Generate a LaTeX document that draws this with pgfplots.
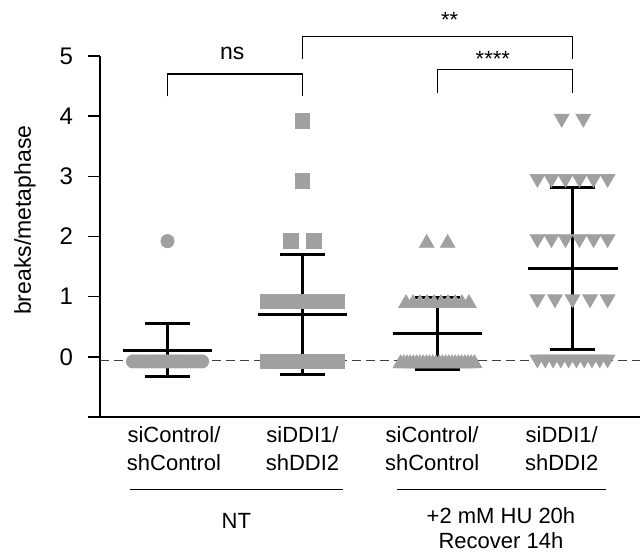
\documentclass[border=0pt]{standalone}
\usepackage{fontspec}
\setmainfont{Liberation Sans}
\usepackage{pgfplots}
\pgfplotsset{compat=1.18}
\usetikzlibrary{calc}
\definecolor{cg}{HTML}{A0A0A0}

\begin{document}
\begin{tikzpicture}[lab/.style={font=\fontsize{11}{14}\selectfont}]
\begin{axis}[
  name=ax,
  scale only axis, width=270pt, height=180.5pt,
  xmin=0.5, xmax=4.5, ymin=-1, ymax=5,
  axis x line*=bottom, axis y line*=left,
  axis line style={-, line width=0.7pt},
  xtick=\empty, ytick={-1,0,...,5}, yticklabels={,0,1,2,3,4,5},
  tick align=outside, major tick length=6pt,
  tick style={black, line width=0.7pt},
  yticklabel style={font=\fontsize{12}{14}\selectfont, xshift=-4pt},
  /pgf/number format/assume math mode=true,
  clip=false,
  dots/.style={only marks, color=cg, mark options={solid, fill=cg, draw=cg, line width=0.2pt}},
  sd/.style={black, line width=1.6pt, forget plot},
]
% siControl/shControl, NT
\addplot[dots, mark=*, mark size=3.3pt, mark options={yshift=-2.3pt}] coordinates {
(0.744,0) (0.772,0) (0.801,0) (0.829,0) (0.858,0) (0.886,0) (0.915,0) (0.943,0) (0.972,0) (1,0)
(1.028,0) (1.057,0) (1.085,0) (1.114,0) (1.142,0) (1.171,0) (1.199,0) (1.228,0) (1.256,0) (1,2)};
% siDDI1/shDDI2, NT
\addplot[dots, mark=square*, mark size=3.65pt, mark options={yshift=-2.3pt}] coordinates {
(1.744,0) (1.778,0) (1.812,0) (1.846,0) (1.881,0) (1.915,0) (1.949,0) (1.983,0)
(2.017,0) (2.051,0) (2.085,0) (2.119,0) (2.154,0) (2.188,0) (2.222,0) (2.256,0)
(1.744,1) (1.801,1) (1.858,1) (1.915,1) (1.972,1) (2.028,1) (2.085,1) (2.142,1) (2.199,1) (2.256,1)
(1.915,2) (2.085,2) (2,3) (2,4)};
% siControl/shControl, HU
\addplot[dots, mark=triangle*, mark size=4.2pt, mark options={yshift=-3.3pt}] coordinates {
(2.726,0) (2.750,0) (2.774,0) (2.797,0) (2.821,0) (2.845,0) (2.869,0) (2.893,0) (2.917,0) (2.940,0) (2.964,0) (2.988,0)
(3.012,0) (3.036,0) (3.060,0) (3.083,0) (3.107,0) (3.131,0) (3.155,0) (3.179,0) (3.203,0) (3.226,0) (3.250,0) (3.274,0)
(2.767,1) (2.819,1) (2.870,1) (2.922,1) (2.974,1) (3.026,1) (3.078,1) (3.130,1) (3.181,1) (3.233,1)
(2.920,2) (3.075,2)};
% siDDI1/shDDI2, HU
\addplot[dots, mark=triangle*, mark size=4.2pt, mark options={rotate=180, yshift=1.2pt}] coordinates {
(3.740,0) (3.798,0) (3.856,0) (3.913,0) (3.971,0) (4.029,0) (4.087,0) (4.144,0) (4.202,0) (4.260,0)
(3.740,1) (3.870,1) (4.000,1) (4.130,1) (4.260,1)
(3.740,2) (3.844,2) (3.948,2) (4.052,2) (4.156,2) (4.260,2)
(3.740,3) (3.844,3) (3.948,3) (4.052,3) (4.156,3) (4.260,3)
(3.920,4) (4.080,4)};
% zero line
\addplot[black!75, line width=0.6pt, dash pattern=on 4.5pt off 2.5pt] coordinates {(0.5,-0.06) (4.5,-0.06)};
% mean lines
\addplot[sd] coordinates {(0.667,0.105) (1.333,0.105)};
\addplot[sd] coordinates {(1.667,0.7) (2.333,0.7)};
\addplot[sd] coordinates {(2.667,0.385) (3.333,0.385)};
\addplot[sd] coordinates {(3.67,1.47) (4.34,1.47)};
% SD bars with caps
\addplot[sd] coordinates {(1,-0.33) (1,0.55)};
\addplot[sd] coordinates {(0.83,-0.33) (1.17,-0.33)};
\addplot[sd] coordinates {(0.83,0.55) (1.17,0.55)};
\addplot[sd] coordinates {(2,-0.3) (2,1.7)};
\addplot[sd] coordinates {(1.83,-0.3) (2.17,-0.3)};
\addplot[sd] coordinates {(1.83,1.7) (2.17,1.7)};
\addplot[sd] coordinates {(3,-0.21) (3,0.98)};
\addplot[sd] coordinates {(2.83,-0.21) (3.17,-0.21)};
\addplot[sd] coordinates {(2.83,0.98) (3.17,0.98)};
\addplot[sd] coordinates {(4,0.12) (4,2.82)};
\addplot[sd] coordinates {(3.83,0.12) (4.17,0.12)};
\addplot[sd] coordinates {(3.83,2.82) (4.17,2.82)};
% significance brackets
\draw[line width=0.6pt] (axis cs:1,4.33) |- (axis cs:2,4.7) -- (axis cs:2,4.33);
\draw[line width=0.6pt] (axis cs:2,4.95) |- (axis cs:4,5.33) -- (axis cs:4,4.95);
\draw[line width=0.6pt] (axis cs:3,4.38) |- (axis cs:4,4.77) -- (axis cs:4,4.38);
\node[font=\fontsize{11.5}{13}\selectfont] at (axis cs:1.48,5.05) {ns};
\node[lab] at (axis cs:3.09,5.6) {**};
\node[lab] at (axis cs:3.41,4.95) {****};
% y label
\node[rotate=90, font=\fontsize{11.5}{13}\selectfont] at (axis cs:-0.056,2.27) {breaks/metaphase};
% group labels
\node[lab, align=center] at (axis cs:1.048,-1.52) {siControl/\\shControl};
\node[lab, align=center] at (axis cs:2,-1.52) {siDDI1/\\shDDI2};
\node[lab, align=center] at (axis cs:2.96,-1.52) {siControl/\\shControl};
\node[lab, align=center] at (axis cs:3.92,-1.52) {siDDI1/\\shDDI2};
\draw[line width=0.5pt] (axis cs:0.722,-2.2) -- (axis cs:2.3,-2.2);
\draw[line width=0.5pt] (axis cs:2.7,-2.2) -- (axis cs:4.25,-2.2);
\node[lab] at (axis cs:1.51,-2.72) {NT};
\node[font=\fontsize{11}{12.5}\selectfont, align=center] at (axis cs:3.47,-2.84) {+2 mM HU 20h\\Recover 14h};
\coordinate (bl) at (rel axis cs:0,0);
\coordinate (tr) at (rel axis cs:1,1);
\end{axis}
\pgfresetboundingbox
\path ($(bl)+(-50pt,-70pt)$) rectangle ($(tr)+(0pt,28pt)$);
\end{tikzpicture}
\end{document}
